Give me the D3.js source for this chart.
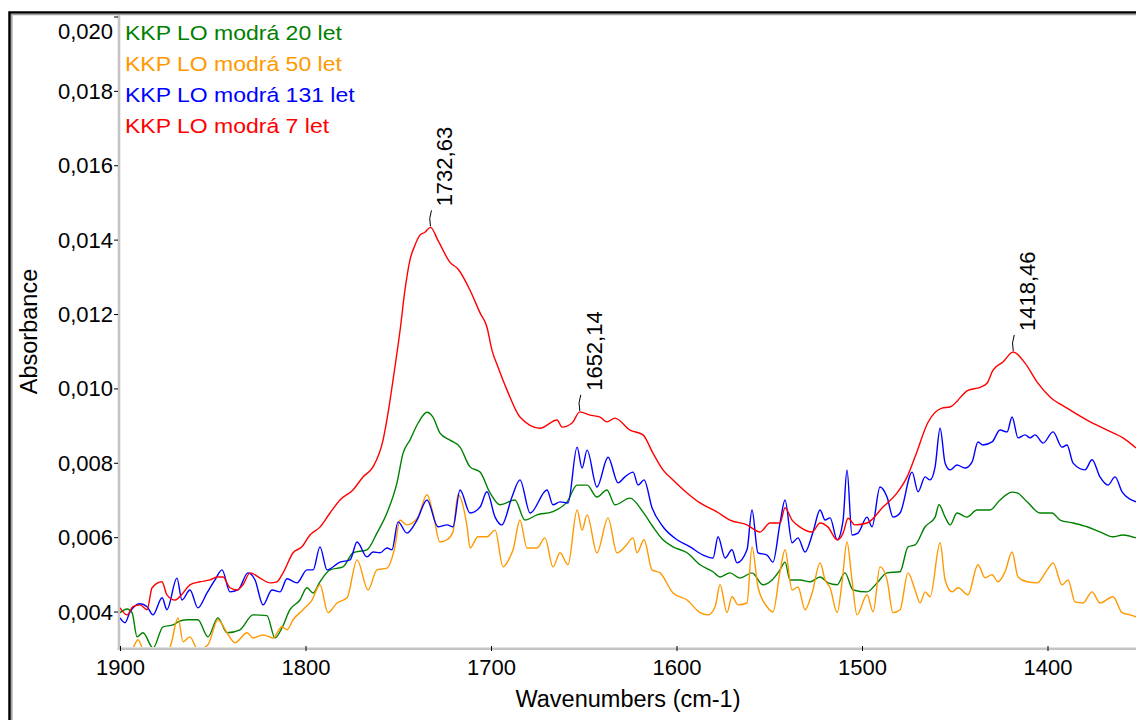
<!DOCTYPE html>
<html>
<head>
<meta charset="utf-8">
<script src="https://cdn.jsdelivr.net/npm/d3@7"></script>
<style>
  body { margin: 0; background: #fff; }
  svg { display: block; }
  text { font-family: "Liberation Sans", Arial, Helvetica, sans-serif; fill: #000; }
</style>
</head>
<body>
<div class="chart"></div>
<script>
// ---------------------------------------- data ----------------------------------------

const wavenumberTicks = [1900, 1800, 1700, 1600, 1500, 1400];
const absorbanceTicks = [0.004, 0.006, 0.008, 0.010, 0.012, 0.014, 0.016, 0.018, 0.020];

const seriesNames = ["KKP LO modrá 20 let", "KKP LO modrá 50 let", "KKP LO modrá 131 let", "KKP LO modrá 7 let"];
const seriesColors = ["#008000", "#ff9900", "#0000ff", "#ff0000"];

// [wavenumber, absorbance]
const green20 = [[1900.0,0.00397],[1896.2,0.00407],[1893.5,0.00397],[1890.8,0.00332],[1887.6,0.00343],[1882.2,0.00302],[1876.8,0.00359],[1871.4,0.00364],[1868.7,0.00372],[1863.9,0.00378],[1858.0,0.00378],[1852.6,0.00332],[1847.2,0.00383],[1842.3,0.00343],[1835.3,0.00351],[1828.3,0.00391],[1820.8,0.00389],[1816.4,0.00329],[1812.7,0.00356],[1808.4,0.00405],[1803.0,0.00431],[1799.2,0.00464],[1795.9,0.00450],[1792.2,0.00480],[1786.8,0.00512],[1779.8,0.00520],[1774.4,0.00558],[1766.9,0.00566],[1761.5,0.00611],[1756.1,0.00665],[1750.7,0.00746],[1747.4,0.00826],[1743.7,0.00861],[1739.3,0.00907],[1734.5,0.00936],[1731.3,0.00923],[1727.5,0.00880],[1722.1,0.00861],[1716.7,0.00842],[1711.3,0.00789],[1705.9,0.00775],[1700.5,0.00719],[1695.1,0.00687],[1687.1,0.00700],[1681.7,0.00646],[1675.2,0.00660],[1667.1,0.00668],[1659.0,0.00695],[1653.6,0.00740],[1648.2,0.00740],[1642.9,0.00708],[1637.5,0.00727],[1633.2,0.00687],[1625.1,0.00705],[1618.1,0.00668],[1612.7,0.00628],[1607.3,0.00593],[1601.9,0.00574],[1594.3,0.00558],[1587.3,0.00526],[1580.3,0.00507],[1576.5,0.00493],[1571.2,0.00504],[1565.8,0.00490],[1559.3,0.00504],[1553.4,0.00472],[1548.5,0.00485],[1544.2,0.00512],[1541.5,0.00533],[1538.8,0.00485],[1533.4,0.00485],[1528.0,0.00480],[1522.6,0.00493],[1518.3,0.00477],[1513.4,0.00472],[1509.2,0.00504],[1504.8,0.00458],[1497.3,0.00453],[1491.9,0.00477],[1486.5,0.00504],[1479.5,0.00507],[1475.2,0.00574],[1471.4,0.00579],[1466.0,0.00628],[1460.6,0.00654],[1458.5,0.00687],[1455.2,0.00654],[1452.5,0.00633],[1448.8,0.00665],[1443.4,0.00654],[1438.0,0.00673],[1431.0,0.00673],[1425.6,0.00700],[1419.1,0.00721],[1416.4,0.00719],[1411.0,0.00695],[1404.0,0.00665],[1397.6,0.00665],[1393.2,0.00646],[1386.2,0.00638],[1378.7,0.00628],[1371.7,0.00614],[1364.7,0.00601],[1359.3,0.00606],[1352.3,0.00598]];

const orange50 = [[1900.0,0.00257],[1893.0,0.00302],[1890.3,0.00324],[1887.6,0.00297],[1881.1,0.00270],[1873.0,0.00305],[1868.7,0.00383],[1866.0,0.00319],[1862.3,0.00332],[1858.0,0.00297],[1852.6,0.00311],[1847.2,0.00378],[1842.3,0.00343],[1838.0,0.00316],[1831.5,0.00343],[1828.3,0.00329],[1822.9,0.00337],[1817.5,0.00329],[1812.7,0.00359],[1810.0,0.00351],[1806.7,0.00378],[1801.3,0.00405],[1796.5,0.00431],[1792.2,0.00472],[1787.9,0.00397],[1783.0,0.00423],[1777.6,0.00437],[1772.2,0.00539],[1766.3,0.00458],[1761.5,0.00512],[1756.1,0.00517],[1751.8,0.00574],[1749.1,0.00646],[1745.3,0.00633],[1739.4,0.00654],[1734.5,0.00714],[1731.3,0.00665],[1727.5,0.00587],[1723.7,0.00593],[1720.5,0.00614],[1717.8,0.00714],[1712.9,0.00628],[1711.3,0.00571],[1707.0,0.00601],[1702.2,0.00601],[1697.8,0.00619],[1693.5,0.00520],[1689.7,0.00547],[1688.1,0.00566],[1684.4,0.00646],[1680.6,0.00571],[1675.2,0.00571],[1670.9,0.00598],[1666.6,0.00520],[1662.8,0.00558],[1658.5,0.00526],[1653.6,0.00673],[1650.9,0.00619],[1648.2,0.00660],[1642.9,0.00558],[1636.9,0.00652],[1632.1,0.00558],[1627.8,0.00574],[1623.4,0.00598],[1621.3,0.00558],[1617.5,0.00593],[1613.2,0.00512],[1608.9,0.00504],[1601.9,0.00450],[1594.3,0.00431],[1587.3,0.00397],[1583.0,0.00391],[1579.2,0.00413],[1576.5,0.00472],[1572.8,0.00397],[1570.1,0.00440],[1566.8,0.00418],[1562.0,0.00423],[1559.3,0.00574],[1556.1,0.00466],[1551.2,0.00413],[1548.0,0.00399],[1544.2,0.00507],[1541.5,0.00566],[1537.7,0.00458],[1534.5,0.00466],[1530.7,0.00405],[1526.9,0.00450],[1522.6,0.00531],[1519.9,0.00485],[1517.2,0.00464],[1513.4,0.00397],[1510.8,0.00477],[1508.1,0.00587],[1505.4,0.00485],[1502.7,0.00391],[1497.3,0.00445],[1494.0,0.00399],[1490.3,0.00520],[1486.5,0.00485],[1483.3,0.00397],[1479.5,0.00405],[1475.2,0.00504],[1471.4,0.00458],[1468.7,0.00423],[1466.0,0.00453],[1463.3,0.00440],[1457.9,0.00585],[1455.2,0.00485],[1451.4,0.00453],[1448.2,0.00464],[1442.9,0.00445],[1437.5,0.00526],[1433.7,0.00491],[1429.9,0.00499],[1426.7,0.00480],[1422.9,0.00507],[1419.1,0.00560],[1415.9,0.00493],[1411.0,0.00480],[1405.6,0.00477],[1400.2,0.00512],[1397.0,0.00531],[1392.2,0.00472],[1388.9,0.00485],[1385.2,0.00426],[1380.9,0.00423],[1376.0,0.00453],[1371.7,0.00423],[1364.7,0.00440],[1359.8,0.00397],[1355.5,0.00391],[1352.3,0.00386]];

const blue131 = [[1900.0,0.00383],[1897.3,0.00370],[1894.6,0.00399],[1889.2,0.00421],[1885.4,0.00413],[1882.2,0.00391],[1877.3,0.00437],[1874.7,0.00405],[1869.3,0.00490],[1866.6,0.00431],[1862.3,0.00458],[1858.0,0.00410],[1853.1,0.00450],[1848.8,0.00485],[1845.0,0.00512],[1840.7,0.00453],[1836.4,0.00458],[1831.0,0.00504],[1827.2,0.00485],[1822.9,0.00418],[1818.1,0.00458],[1813.7,0.00453],[1810.0,0.00488],[1804.6,0.00477],[1799.2,0.00512],[1795.9,0.00512],[1792.2,0.00574],[1788.4,0.00512],[1781.4,0.00533],[1776.0,0.00539],[1772.2,0.00587],[1766.9,0.00547],[1763.6,0.00560],[1759.8,0.00558],[1756.1,0.00571],[1753.4,0.00566],[1750.1,0.00641],[1745.3,0.00611],[1739.9,0.00646],[1734.5,0.00700],[1728.6,0.00628],[1723.7,0.00633],[1720.5,0.00628],[1716.7,0.00727],[1711.3,0.00665],[1705.9,0.00681],[1702.2,0.00722],[1697.8,0.00654],[1694.2,0.00633],[1688.7,0.00708],[1684.4,0.00754],[1678.9,0.00665],[1669.8,0.00727],[1666.6,0.00687],[1662.8,0.00695],[1658.5,0.00692],[1653.6,0.00842],[1650.9,0.00786],[1648.2,0.00834],[1642.9,0.00735],[1636.9,0.00815],[1631.5,0.00746],[1627.8,0.00762],[1623.4,0.00775],[1620.7,0.00740],[1617.5,0.00754],[1613.2,0.00679],[1607.3,0.00628],[1599.7,0.00593],[1592.7,0.00574],[1585.7,0.00552],[1580.3,0.00544],[1577.6,0.00601],[1573.8,0.00544],[1570.1,0.00566],[1567.4,0.00531],[1562.0,0.00566],[1559.3,0.00673],[1556.1,0.00558],[1551.2,0.00552],[1548.0,0.00533],[1544.2,0.00638],[1541.5,0.00700],[1537.7,0.00585],[1534.5,0.00598],[1530.7,0.00560],[1526.4,0.00614],[1522.6,0.00673],[1519.9,0.00646],[1517.2,0.00652],[1513.4,0.00593],[1510.2,0.00646],[1508.1,0.00781],[1505.4,0.00606],[1502.2,0.00611],[1497.3,0.00654],[1494.6,0.00628],[1490.3,0.00735],[1486.5,0.00708],[1483.3,0.00654],[1479.5,0.00665],[1473.0,0.00775],[1469.8,0.00722],[1466.0,0.00762],[1463.3,0.00754],[1460.6,0.00789],[1457.9,0.00893],[1455.2,0.00799],[1452.5,0.00781],[1448.8,0.00794],[1444.5,0.00786],[1440.7,0.00802],[1437.5,0.00856],[1434.8,0.00848],[1429.9,0.00856],[1425.6,0.00888],[1421.8,0.00883],[1419.1,0.00923],[1415.9,0.00867],[1412.1,0.00875],[1409.4,0.00867],[1406.7,0.00875],[1402.4,0.00853],[1397.0,0.00883],[1392.2,0.00842],[1389.5,0.00848],[1386.2,0.00799],[1379.8,0.00781],[1376.0,0.00808],[1371.7,0.00762],[1367.4,0.00740],[1363.6,0.00762],[1359.8,0.00722],[1352.3,0.00695]];

const red7 = [[1900.0,0.00410],[1896.2,0.00391],[1893.0,0.00413],[1889.2,0.00418],[1885.4,0.00405],[1882.7,0.00464],[1877.4,0.00480],[1874.7,0.00445],[1870.3,0.00431],[1866.0,0.00450],[1862.3,0.00472],[1856.9,0.00480],[1851.5,0.00485],[1847.7,0.00493],[1844.5,0.00493],[1840.7,0.00464],[1836.9,0.00458],[1833.7,0.00472],[1829.9,0.00504],[1824.5,0.00490],[1819.1,0.00477],[1815.4,0.00480],[1812.1,0.00504],[1806.7,0.00558],[1801.9,0.00574],[1797.6,0.00606],[1792.2,0.00627],[1786.8,0.00665],[1781.4,0.00700],[1774.4,0.00727],[1769.0,0.00762],[1763.6,0.00789],[1758.2,0.00861],[1755.5,0.00934],[1752.8,0.01023],[1749.0,0.01157],[1746.4,0.01264],[1743.7,0.01345],[1741.0,0.01385],[1738.3,0.01412],[1735.6,0.01420],[1732.6,0.01433],[1728.6,0.01398],[1722.1,0.01339],[1717.8,0.01321],[1711.3,0.01264],[1705.9,0.01203],[1702.2,0.01165],[1699.5,0.01103],[1696.2,0.01057],[1691.4,0.00996],[1684.4,0.00923],[1673.6,0.00893],[1664.4,0.00915],[1661.7,0.00896],[1656.3,0.00907],[1652.1,0.00937],[1646.6,0.00928],[1641.2,0.00923],[1637.5,0.00910],[1633.2,0.00920],[1625.1,0.00888],[1618.1,0.00875],[1612.7,0.00826],[1607.3,0.00781],[1601.9,0.00754],[1594.3,0.00719],[1587.3,0.00692],[1578.2,0.00668],[1571.2,0.00646],[1562.0,0.00633],[1555.0,0.00614],[1549.6,0.00638],[1544.2,0.00638],[1541.5,0.00679],[1537.7,0.00646],[1533.4,0.00627],[1526.9,0.00614],[1522.6,0.00638],[1518.3,0.00627],[1513.4,0.00593],[1510.2,0.00611],[1507.5,0.00651],[1503.8,0.00633],[1497.3,0.00638],[1488.7,0.00681],[1481.1,0.00719],[1475.7,0.00762],[1471.4,0.00816],[1464.4,0.00909],[1456.9,0.00947],[1452.6,0.00950],[1442.9,0.00995],[1436.4,0.01003],[1432.6,0.01014],[1429.4,0.01049],[1424.0,0.01071],[1418.5,0.01098],[1412.1,0.01068],[1405.6,0.01017],[1398.6,0.00977],[1389.5,0.00947],[1378.7,0.00915],[1367.9,0.00888],[1359.3,0.00867],[1352.3,0.00840]];

const peakWavenumbers = [1732.63, 1652.14, 1418.46];
const peakLabels = ["1732,63", "1652,14", "1418,46"];

// --------------------------------------------- chart ---------------------------------------------

const W = 1136, H = 720;
const plot = { left: 120, right: 1136, top: 15, bottom: 648 };

const svg = d3.select(".chart").append("svg")
    .attr("width", W)
    .attr("height", H);

// x runs from high to low wavenumber
const x = d3.scaleLinear().domain([1900, 1352.3]).range([plot.left, plot.right]);
const y = d3.scaleLinear().domain([0.00302, 0.02004]).range([plot.bottom, plot.top]);

// window frame (black + grey inner line)
svg.append("path").attr("d", "M9.5,720V12.5H1136")
    .attr("fill", "none").attr("stroke", "#000").attr("stroke-width", 2.5);
svg.append("path").attr("d", "M11.8,720V14.6H1136")
    .attr("fill", "none").attr("stroke", "#a0a0a0").attr("stroke-width", 1.5);

svg.append("clipPath").attr("id", "clip")
    .append("rect")
    .attr("x", plot.left).attr("y", plot.top)
    .attr("width", plot.right - plot.left).attr("height", plot.bottom - plot.top - 1);

// axis lines
svg.append("line")
    .attr("x1", 119).attr("x2", 119).attr("y1", plot.top).attr("y2", plot.bottom + 1.5)
    .attr("stroke", "#c4c4c4").attr("stroke-width", 2.6);
svg.append("line")
    .attr("x1", 117.7).attr("x2", plot.right).attr("y1", 648.8).attr("y2", 648.8)
    .attr("stroke", "#c4c4c4").attr("stroke-width", 2.6);

// y axis
const yAxis = d3.axisLeft(y)
    .tickValues(absorbanceTicks)
    .tickSize(4)
    .tickPadding(1)
    .tickFormat(d => d3.format(".3f")(d).replace(".", ","));

const gy = svg.append("g").attr("transform", "translate(118,0)").call(yAxis);
gy.select(".domain").remove();
gy.selectAll("line").attr("stroke", "#000");
// labels sit inside tick groups, so y is relative to the tick; top label pushed down
gy.selectAll("text")
    .attr("font-size", "22px")
    .attr("font-family", "Liberation Sans, Arial, sans-serif")
    .attr("dy", null)
    .attr("y", d => Math.max(7.5, 39 - y(d)));

// x axis
const xAxis = d3.axisBottom(x)
    .tickValues(wavenumberTicks)
    .tickSize(5)
    .tickPadding(8.5)
    .tickFormat(d3.format("d"));

const gx = svg.append("g").attr("transform", "translate(0,646)").call(xAxis);
gx.select(".domain").remove();
gx.selectAll("line").attr("stroke", "#000");
gx.selectAll("text")
    .attr("font-size", "22px")
    .attr("font-family", "Liberation Sans, Arial, sans-serif");

// axis titles
svg.append("text")
    .attr("x", (plot.left + plot.right) / 2)
    .attr("y", 707)
    .attr("text-anchor", "middle")
    .attr("font-size", "23.5px")
    .text("Wavenumbers (cm-1)");

svg.append("text")
    .attr("transform", "translate(37," + (plot.top + plot.bottom) / 2 + ") rotate(-90)")
    .attr("text-anchor", "middle")
    .attr("font-size", "23.5px")
    .text("Absorbance");

// spectra
const line = d3.line().x(d => x(d[0])).y(d => y(d[1])).curve(d3.curveMonotoneX);
const series = [green20, orange50, blue131, red7];

svg.append("g").attr("clip-path", "url(#clip)")
    .selectAll("path")
    .data(series)
    .join("path")
    .attr("d", line)
    .attr("fill", "none")
    .attr("stroke", (d, i) => seriesColors[i])
    .attr("stroke-width", 1.4)
    .attr("stroke-linejoin", "round");

// peak labels on the red spectrum
peakWavenumbers.forEach((wn, i) => {
    const nearest = red7.reduce((a, b) => Math.abs(b[0] - wn) < Math.abs(a[0] - wn) ? b : a);
    const px = x(wn);
    const py = y(nearest[1]);
    svg.append("path")
        .attr("d", `M${px},${py - 1}Q${px - 2},${py - 9} ${px + 1},${py - 17}`)
        .attr("fill", "none")
        .attr("stroke", "#000")
        .attr("stroke-width", 1);
    svg.append("text")
        .attr("transform", `translate(${px + 22},${py - 21}) rotate(-90)`)
        .attr("font-size", "22px")
        .text(peakLabels[i]);
});

// legend (text is drawn a bit wide, as in the original)
const legend = svg.append("g");
seriesNames.forEach((name, i) => {
    legend.append("text")
        .attr("transform", `translate(125,${39.5 + i * 31.2}) scale(1.18,1)`)
        .attr("font-size", "19.5px")
        .style("fill", seriesColors[i])
        .text(name);
});
</script>
</body>
</html>
